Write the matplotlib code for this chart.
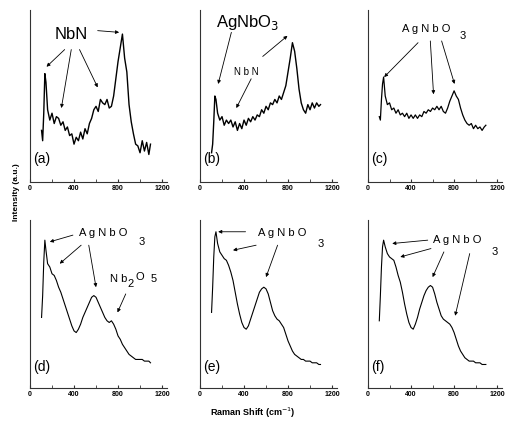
import numpy as np
import matplotlib.pyplot as plt

plt.rcParams['font.family'] = ['Liberation Sans', 'DejaVu Sans']

# Raman shift grid (cm-1)
shift = [105, 115, 125, 135, 145, 160, 180, 200, 220, 240, 260, 280, 300, 320,
         340, 360, 380, 400, 420, 440, 460, 480, 500, 520, 540, 560, 580, 600,
         620, 640, 660, 680, 700, 720, 740, 760, 780, 800, 820, 840, 860, 880,
         900, 920, 940, 960, 980, 1000, 1020, 1040, 1060, 1080, 1095]

spec_a = [30, 24, 40, 63, 58, 42, 36, 40, 34, 38, 37, 33, 35, 30,
          32, 27, 28, 22, 26, 24, 29, 25, 31, 28, 34, 37, 42, 44,
          41, 48, 46, 45, 48, 43, 44, 50, 60, 70, 78, 86, 72, 64,
          45, 35, 28, 22, 21, 17, 24, 18, 23, 16, 22]
spec_b = [17, 22, 35, 50, 48, 40, 36, 38, 33, 36, 34, 36, 32, 35,
          30, 34, 31, 36, 33, 37, 35, 38, 36, 39, 38, 42, 40, 44,
          42, 46, 45, 48, 46, 50, 48, 52, 56, 64, 72, 81, 76, 66,
          54, 46, 42, 40, 45, 42, 46, 43, 46, 44, 45]
spec_c = [38, 36, 48, 57, 61, 50, 45, 46, 42, 43, 40, 42, 39, 40,
          38, 40, 37, 39, 37, 39, 37, 39, 38, 41, 40, 42, 41, 43,
          42, 44, 42, 44, 41, 40, 43, 47, 50, 53, 50, 48, 43, 39,
          36, 34, 33, 34, 31, 33, 31, 32, 30, 32, 33]
spec_d = [42, 55, 75, 88, 82, 74, 72, 68, 67, 64, 60, 57, 53, 49,
          45, 41, 37, 34, 33, 35, 38, 42, 45, 48, 51, 54, 55, 54,
          51, 48, 45, 42, 40, 39, 40, 38, 35, 31, 29, 26, 24, 22,
          20, 19, 18, 17, 17, 17, 17, 16, 16, 16, 15]
spec_e = [45, 60, 78, 90, 93, 86, 81, 79, 77, 76, 73, 69, 64, 57,
          50, 44, 39, 36, 35, 37, 41, 45, 49, 53, 57, 59, 60, 59,
          56, 51, 46, 43, 41, 40, 38, 36, 32, 28, 25, 22, 20, 19,
          18, 17, 17, 16, 16, 16, 15, 15, 15, 14, 14]
spec_f = [40, 55, 72, 84, 88, 84, 80, 78, 77, 76, 72, 67, 63, 57,
          50, 44, 39, 36, 35, 38, 42, 47, 51, 55, 58, 60, 61, 60,
          56, 51, 47, 43, 41, 40, 39, 38, 36, 33, 29, 25, 22, 20,
          18, 17, 16, 16, 16, 15, 15, 15, 14, 14, 14]

spectra = [spec_a, spec_b, spec_c, spec_d, spec_e, spec_f]
panel_labels = ["(a)", "(b)", "(c)", "(d)", "(e)", "(f)"]
line_widths = [1.0, 1.0, 0.9, 0.8, 0.8, 0.8]

fig = plt.figure(figsize=(5.07, 4.22), dpi=100)

lefts = [30/507, 200/507, 368/507]
widths = [137/507, 137/507, 134/507]
bottoms = [(422-182)/422, (422-388)/422]
heights = [172/422, 168/422]

axes = []
for i in range(6):
    r, c = divmod(i, 3)
    ax = fig.add_axes([lefts[c], bottoms[r], widths[c], heights[r]])
    ax.plot(shift, spectra[i], color='k', lw=line_widths[i])
    ax.set_xlim(0, 1245)
    ax.set_ylim(0, 100)
    ax.spines['top'].set_visible(False)
    ax.spines['right'].set_visible(False)
    ax.spines['left'].set_color('#333333')
    ax.spines['bottom'].set_color('#333333')
    ax.set_yticks([])
    ax.set_xticks([0, 400, 800, 1200])
    ax.set_xticks([200, 600, 1000], minor=True)
    ax.tick_params(axis='x', which='both', direction='in', length=2,
                   labelsize=5, pad=2.5, color='#333333')
    for t in ax.get_xticklabels():
        t.set_fontweight('bold')
    ax.text(30, 11 if r == 0 else 10, panel_labels[i], fontsize=10)
    axes.append(ax)

arr = dict(arrowstyle='-|>', lw=0.6, color='k', mutation_scale=5,
           shrinkA=0, shrinkB=0)

def arrow(ax, start, end):
    ax.annotate("", xy=end, xytext=start, arrowprops=arr)

# (a)
ax = axes[0]
ax.text(375, 86, "NbN", fontsize=12, ha='center', va='center')
arrow(ax, (315, 77), (150, 67))
arrow(ax, (375, 77), (285, 43))
arrow(ax, (450, 77), (615, 55))
arrow(ax, (615, 88), (810, 87))

# (b)
ax = axes[1]
ax.text(435, 93, "AgNbO$_3$", fontsize=12, ha='center', va='center')
arrow(ax, (285, 87), (165, 57))
arrow(ax, (570, 73), (795, 85))
ax.text(420, 64, "N b N", fontsize=7, ha='center', va='center')
arrow(ax, (465, 60), (330, 43))

# (c)
ax = axes[2]
ax.text(315, 89, "A g N b O", fontsize=8, ha='left', va='center')
ax.text(879, 85, "3", fontsize=8, ha='center', va='center')
arrow(ax, (465, 81), (150, 61))
arrow(ax, (579, 82), (609, 51))
arrow(ax, (684, 82), (804, 57))

# (d)
ax = axes[3]
ax.text(444, 92, "A g N b O", fontsize=8, ha='left', va='center')
ax.text(1014, 87, "3", fontsize=8, ha='center', va='center')
arrow(ax, (390, 91), (180, 87))
arrow(ax, (465, 85), (270, 74))
arrow(ax, (534, 85), (600, 60))
ax.text(729, 65, "N b", fontsize=8, ha='left', va='center')
ax.text(915, 62, "2", fontsize=8, ha='center', va='center')
ax.text(960, 66, "O", fontsize=8, ha='left', va='center')
ax.text(1125, 65, "5", fontsize=8, ha='center', va='center')
arrow(ax, (870, 56), (795, 45))

# (e)
ax = axes[4]
ax.text(525, 92, "A g N b O", fontsize=8, ha='left', va='center')
ax.text(1095, 86, "3", fontsize=8, ha='center', va='center')
arrow(ax, (414, 93), (165, 93))
arrow(ax, (510, 85), (300, 82))
arrow(ax, (705, 85), (600, 66))

# (f)
ax = axes[5]
ax.text(606, 88, "A g N b O", fontsize=8, ha='left', va='center')
ax.text(1175, 81, "3", fontsize=8, ha='center', va='center')
arrow(ax, (555, 88), (225, 86))
arrow(ax, (585, 83), (300, 78))
arrow(ax, (705, 81), (600, 66))
arrow(ax, (945, 80), (810, 43))

fig.text(17/507, 1 - 192/422, "Intensity (a.u.)", rotation=90, fontsize=6,
         fontweight='bold', ha='center', va='center')
fig.text(253/507, 1 - 413/422, "Raman Shift (cm$^{-1}$)", fontsize=6.5,
         fontweight='bold', ha='center', va='center')

fig.savefig("out.png", dpi=100)
